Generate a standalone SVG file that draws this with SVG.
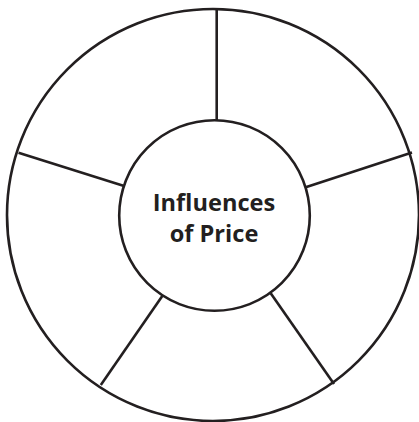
<svg xmlns="http://www.w3.org/2000/svg" width="419" height="422" viewBox="0 0 419 422">
<style>
.ring{fill:none;stroke:#231f20;stroke-width:2.6}
.spoke{stroke:#231f20;stroke-width:2.6;stroke-linecap:butt}
.lbl{font-family:"Open Sans","Noto Sans",sans-serif;font-weight:bold;font-size:23.6px;fill:#231f20;text-anchor:middle}
</style>
<rect width="419" height="422" fill="#ffffff"/>
<g id="outer">
<circle class="ring" cx="213" cy="215" r="206"/>
</g>
<g id="connectors">
<line class="spoke" x1="216.7" y1="9" x2="216.7" y2="120.5"/>
<line class="spoke" x1="18.5" y1="152.7" x2="123.3" y2="185.7"/>
<line class="spoke" x1="305.7" y1="187.3" x2="412" y2="152.5"/>
<line class="spoke" x1="162.3" y1="296" x2="100.8" y2="385"/>
<line class="spoke" x1="270.7" y1="293.3" x2="334" y2="384"/>
</g>
<g id="center">
<circle class="ring" cx="214.5" cy="215.5" r="95.3" fill="#ffffff"/>
<text class="lbl" x="214" y="210.7">Influences</text>
<text class="lbl" x="214" y="242.3">of Price</text>
</g>
</svg>
